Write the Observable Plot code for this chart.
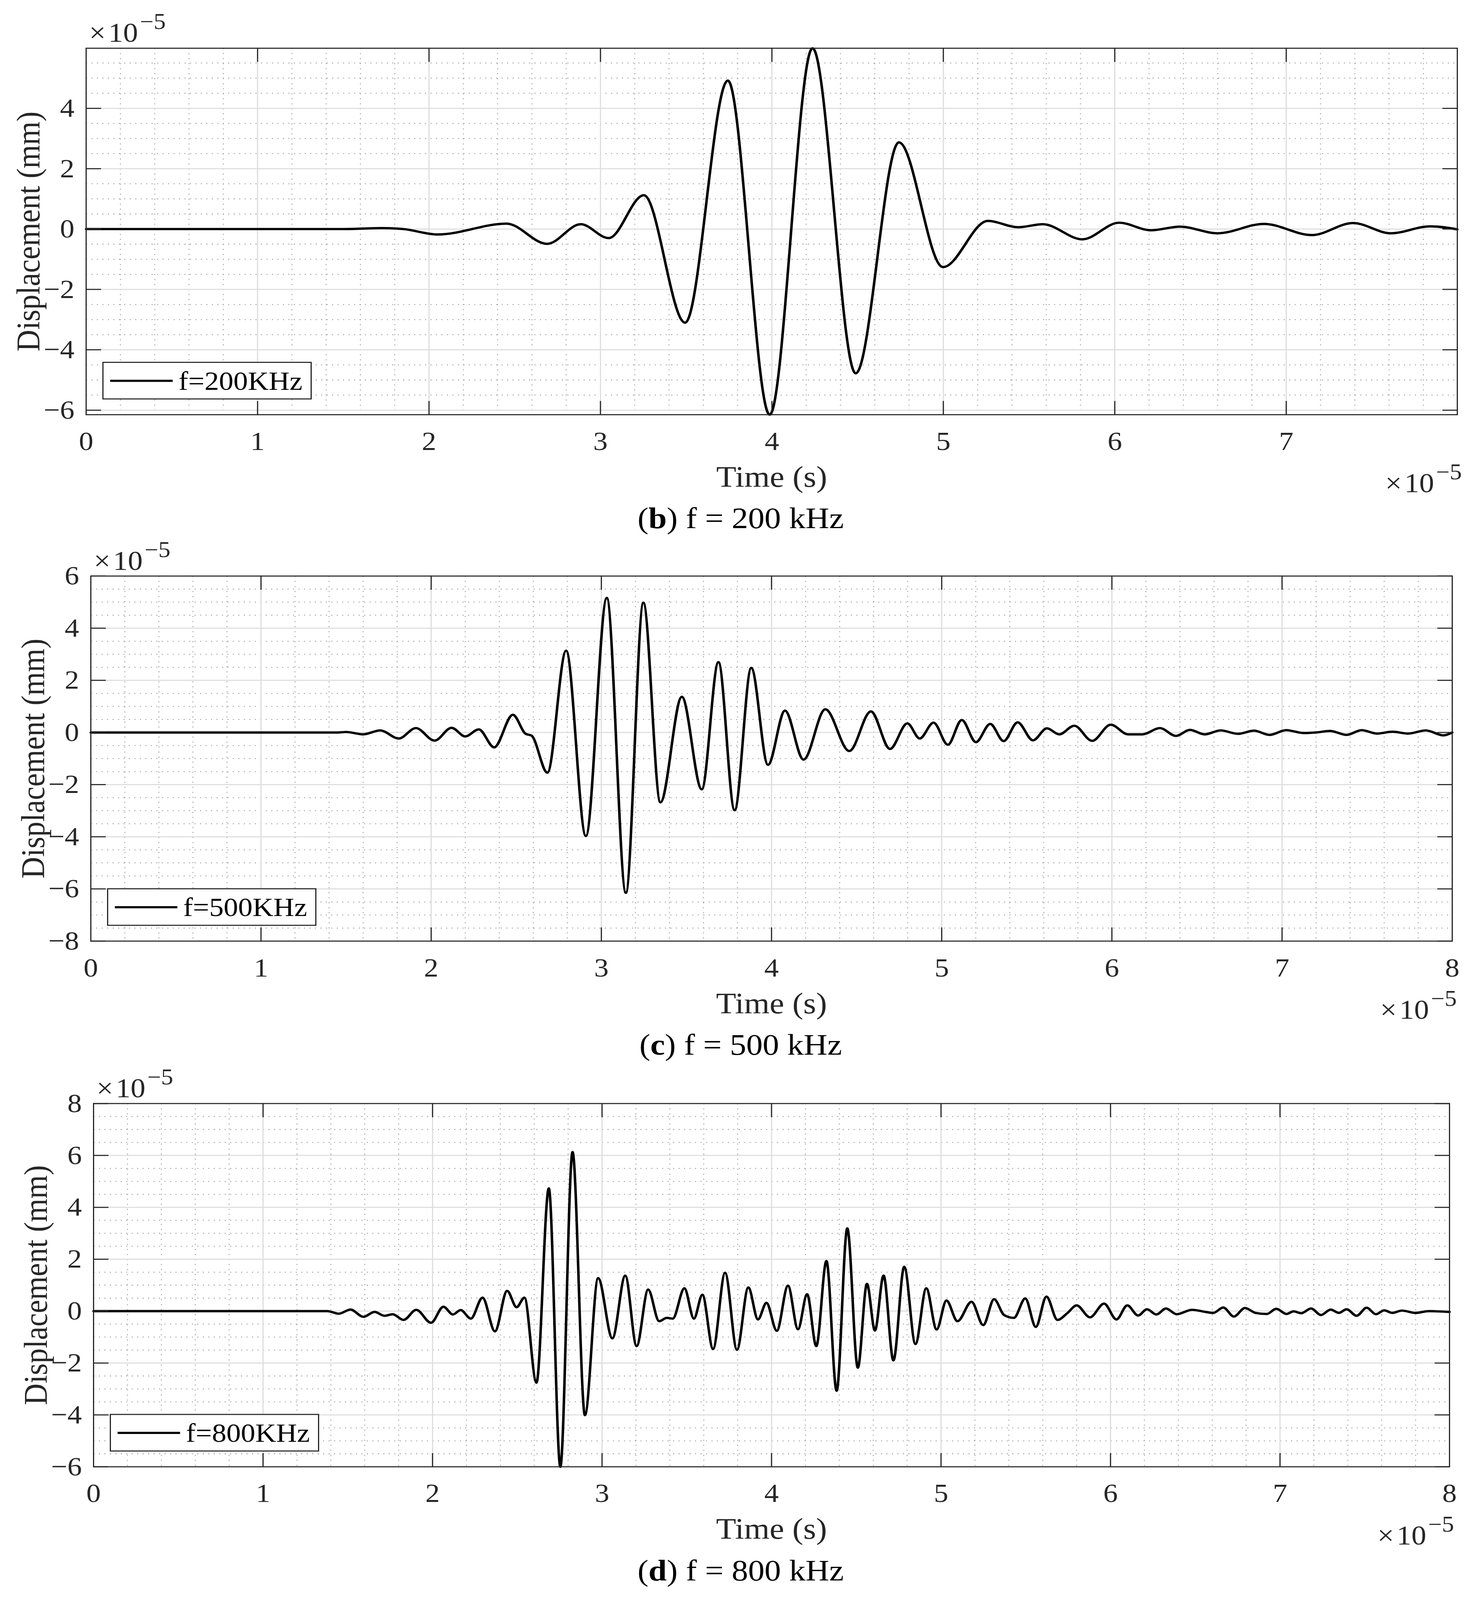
<!DOCTYPE html>
<html>
<head>
<meta charset="utf-8">
<script src="https://cdn.jsdelivr.net/npm/d3@7"></script>
<script src="https://cdn.jsdelivr.net/npm/@observablehq/plot@0.6"></script>
<style>
  html, body { margin: 0; padding: 0; background: #fff; overflow: hidden; }
  #page { position: relative; width: 3786px; height: 4462px; background: #fff; overflow: hidden; transform-origin: 0 0;
          font-family: "Liberation Serif", "Times New Roman", serif; }
  .panel { position: absolute; left: 0; line-height: 0; }
  .panel svg { display: block; }
  .exp { position: absolute; font-size: 76px; line-height: 1; color: #262626; white-space: nowrap; }
  .exp .sup { position: relative; top: -36px; font-size: 62px; margin-left: 5px; }
  .caption { position: absolute; left: 0; text-align: center; font-size: 84px; line-height: 1; color: #000; white-space: pre; }
  .legend { position: absolute; box-sizing: border-box; border: 3px solid #262626; background: #fff; }
  .legend .ln { position: absolute; left: 17px; width: 160px; height: 6px; top: calc(50% - 3px); background: #000; }
  .legend .tx { position: absolute; left: 192px; top: 50%; transform: translateY(-50%); font-size: 74px; line-height: 1; color: #000; white-space: nowrap; }
</style>
</head>
<body>
<div id="page"></div>
<script>
// ---------------- data (time in 1e-5 s, displacement in 1e-5 mm) ----------------
const timeB = [0, 1.5, 1.72, 1.85, 2.05, 2.452, 2.689, 2.885, 3.048, 3.253, 3.494, 3.743, 3.987, 4.237, 4.489, 4.741, 4.998, 5.26, 5.436, 5.58, 5.811, 6.025, 6.21, 6.38, 6.6, 6.87, 7.15, 7.39, 7.61, 7.84, 7.998];
const dispB = [0, 0, 0.03, 0, -0.18, 0.18, -0.49, 0.16, -0.30, 1.12, -3.10, 4.92, -6.15, 5.99, -4.78, 2.87, -1.26, 0.27, 0.06, 0.16, -0.34, 0.21, -0.04, 0.08, -0.14, 0.17, -0.20, 0.20, -0.14, 0.09, -0.01];

const timeC = [0, 1.45, 1.5, 1.6, 1.7, 1.81, 1.91, 2.02, 2.12, 2.2, 2.28, 2.37, 2.48, 2.555, 2.59, 2.683, 2.793, 2.909, 3.032, 3.144, 3.247, 3.347, 3.473, 3.59, 3.688, 3.783, 3.881, 3.979, 4.079, 4.188, 4.316, 4.457, 4.584, 4.696, 4.798, 4.871, 4.952, 5.036, 5.118, 5.201, 5.285, 5.364, 5.446, 5.536, 5.618, 5.691, 5.779, 5.884, 5.993, 6.095, 6.18, 6.282, 6.376, 6.459, 6.545, 6.639, 6.741, 6.835, 6.927, 7.024, 7.128, 7.196, 7.282, 7.379, 7.468, 7.557, 7.649, 7.741, 7.845, 7.949, 8.0];
const dispC = [0, 0, 0.02, -0.07, 0.08, -0.23, 0.17, -0.31, 0.18, -0.15, 0.12, -0.57, 0.68, -0.05, -0.12, -1.54, 3.14, -3.97, 5.16, -6.15, 4.98, -2.68, 1.37, -2.18, 2.70, -2.98, 2.48, -1.24, 0.84, -1.04, 0.89, -0.71, 0.81, -0.63, 0.35, -0.23, 0.38, -0.47, 0.48, -0.37, 0.33, -0.33, 0.39, -0.30, 0.16, -0.07, 0.26, -0.32, 0.30, -0.07, -0.07, 0.17, -0.13, 0.10, -0.07, 0.08, -0.05, 0.07, -0.09, 0.09, -0.02, 0.0, 0.06, -0.09, 0.09, -0.04, 0.03, -0.04, 0.08, -0.11, 0.0];

const timeD = [0, 1.38, 1.447, 1.516, 1.592, 1.658, 1.717, 1.765, 1.829, 1.904, 1.991, 2.064, 2.12, 2.166, 2.226, 2.295, 2.368, 2.44, 2.496, 2.542, 2.613, 2.686, 2.754, 2.826, 2.899, 2.977, 3.061, 3.137, 3.204, 3.272, 3.337, 3.382, 3.417, 3.486, 3.542, 3.592, 3.655, 3.726, 3.796, 3.863, 3.92, 3.97, 4.031, 4.097, 4.156, 4.21, 4.264, 4.324, 4.384, 4.447, 4.509, 4.563, 4.61, 4.661, 4.719, 4.783, 4.849, 4.913, 4.974, 5.032, 5.097, 5.18, 5.249, 5.313, 5.372, 5.43, 5.497, 5.559, 5.622, 5.687, 5.745, 5.8, 5.879, 5.962, 6.035, 6.099, 6.163, 6.215, 6.271, 6.327, 6.39, 6.481, 6.56, 6.606, 6.665, 6.728, 6.793, 6.856, 6.922, 6.978, 7.038, 7.08, 7.125, 7.183, 7.242, 7.299, 7.347, 7.393, 7.452, 7.511, 7.566, 7.615, 7.663, 7.719, 7.8, 7.878, 8.0];
const dispD = [0, 0, -0.10, 0.06, -0.22, -0.03, -0.18, -0.12, -0.34, 0.05, -0.45, 0.17, -0.13, 0.04, -0.29, 0.52, -0.78, 0.78, 0.15, 0.52, -2.76, 4.73, -6.0, 6.13, -4.01, 1.27, -1.05, 1.37, -1.35, 0.83, -0.39, -0.26, -0.29, 0.88, -0.29, 0.63, -1.46, 1.48, -1.49, 0.91, -0.32, 0.32, -0.76, 0.98, -0.70, 0.65, -1.35, 1.93, -3.07, 3.19, -2.18, 1.05, -0.75, 1.37, -1.90, 1.71, -1.27, 0.88, -0.71, 0.41, -0.39, 0.36, -0.54, 0.46, -0.15, -0.26, 0.49, -0.61, 0.56, -0.34, -0.08, 0.22, -0.24, 0.29, -0.32, 0.22, -0.17, 0.07, -0.13, 0.10, -0.12, 0.05, -0.03, -0.07, 0.14, -0.21, 0.12, -0.07, -0.11, 0.09, -0.11, -0.01, -0.08, 0.10, -0.15, 0.06, -0.07, 0.07, -0.18, 0.13, -0.12, 0.03, -0.07, 0.02, -0.07, 0.0, -0.03];

// tick values
const xTicksB = [0, 1, 2, 3, 4, 5, 6, 7];
const yTicksB = [-6, -4, -2, 0, 2, 4];
const xTicksC = [0, 1, 2, 3, 4, 5, 6, 7, 8];
const yTicksC = [-8, -6, -4, -2, 0, 2, 4, 6];
const xTicksD = [0, 1, 2, 3, 4, 5, 6, 7, 8];
const yTicksD = [-6, -4, -2, 0, 2, 4, 6, 8];

const legendLabels = ["f=200KHz", "f=500KHz", "f=800KHz"];
const captionLetters = ["b", "c", "d"];
const captionTexts = [" f = 200 kHz", " f = 500 kHz", " f = 800 kHz"];

// ---------------- layout ----------------
const W = 3786, H = 4462;
const panels = [
  {time: timeB, disp: dispB, xTicks: xTicksB, yTicks: yTicksB, xDomain: d3.extent(timeB), yDomain: d3.extent(dispB),
   top: 0, height: 1480, mt: 134, mb: 324, ml: 220, mr: 56},
  {time: timeC, disp: dispC, xTicks: xTicksC, yTicks: yTicksC, xDomain: [0, 8], yDomain: [-8, 6],
   top: 1480, height: 1480, mt: 126, mb: 336, ml: 232, mr: 69},
  {time: timeD, disp: dispD, xTicks: xTicksD, yTicks: yTicksD, xDomain: [0, 8], yDomain: [-6, 8],
   top: 2960, height: 1502, mt: 117, mb: 372, ml: 239, mr: 76}
];

const fmt = d => (d < 0 ? "\u2212" + Math.abs(d) : String(d));
const tickShape = {draw(ctx, l) { ctx.moveTo(0, 0); ctx.lineTo(0, -l); }};
const axisColor = "#262626";

const page = document.getElementById("page");

// fit the whole figure into the visible window
const vh = window.innerHeight || H;
const fy = Math.min(1, vh / H);
if (fy < 1) page.style.transform = "scale(1," + fy + ")";

panels.forEach((p, k) => {
  const [x0, x1] = p.xDomain, [y0, y1] = p.yDomain;
  const eps = 1e-6;
  const minorX = d3.range(0, 41).map(i => i / 5).filter(v => v > x0 + eps && v < x1 - eps && !p.xTicks.includes(v));
  const minorY = d3.range(-16, 17).map(i => i / 2).filter(v => v > y0 + eps && v < y1 - eps && !p.yTicks.includes(v));
  const majorX = p.xTicks.filter(v => v > x0 + eps && v < x1 - eps);
  const majorY = p.yTicks.filter(v => v > y0 + eps && v < y1 - eps);
  const data = p.time.map((t, i) => ({t, v: p.disp[i]}));
  const tickOpts = {length: 37, anchor: "start", shape: tickShape, stroke: axisColor, strokeWidth: 3};

  const chart = Plot.plot({
    width: W, height: p.height,
    marginTop: p.mt, marginBottom: p.mb, marginLeft: p.ml, marginRight: p.mr,
    style: {fontFamily: "'Liberation Serif', 'Times New Roman', serif", fontSize: "74px", color: axisColor, background: "transparent", overflow: "visible", maxWidth: "none"},
    x: {domain: p.xDomain},
    y: {domain: p.yDomain},
    marks: [
      Plot.ruleX(minorX, {stroke: "#a8a8a8", strokeWidth: 2.5, strokeDasharray: "3,11"}),
      Plot.ruleY(minorY, {stroke: "#a8a8a8", strokeWidth: 2.5, strokeDasharray: "3,11"}),
      Plot.ruleX(majorX, {stroke: "#dddddd", strokeWidth: 3}),
      Plot.ruleY(majorY, {stroke: "#dddddd", strokeWidth: 3}),
      Plot.line(data, {x: "t", y: "v", curve: "monotone-x", stroke: "#000", strokeWidth: 6.5, strokeLinejoin: "round"}),
      Plot.frame({stroke: axisColor, strokeWidth: 3}),
      Plot.vector(p.xTicks, {x: d => d, frameAnchor: "bottom", rotate: 0, ...tickOpts}),
      Plot.vector(p.xTicks, {x: d => d, frameAnchor: "top", rotate: 180, ...tickOpts}),
      Plot.vector(p.yTicks, {y: d => d, frameAnchor: "left", rotate: 90, ...tickOpts}),
      Plot.vector(p.yTicks, {y: d => d, frameAnchor: "right", rotate: 270, ...tickOpts}),
      Plot.axisX({ticks: p.xTicks, tickSize: 0, tickPadding: 46, tickFormat: fmt, label: null, fill: axisColor}),
      Plot.axisY({ticks: p.yTicks, tickSize: 0, tickPadding: 30, tickFormat: fmt, label: null, fill: axisColor}),
      Plot.text(["Time (s)"], {text: d => d, frameAnchor: "bottom", lineAnchor: "middle", textAnchor: "middle", dy: 174, fontSize: 84, fill: axisColor}),
      Plot.text(["Displacement (mm)"], {text: d => d, frameAnchor: "left", lineAnchor: "middle", textAnchor: "middle", dx: -146, rotate: -90, fontSize: 84, fill: axisColor})
    ]
  });

  const holder = document.createElement("div");
  holder.className = "panel";
  holder.style.top = p.top + "px";
  holder.appendChild(chart);
  page.appendChild(holder);

  const left = p.ml, right = W - p.mr, top = p.top + p.mt, bottom = p.top + p.height - p.mb;
  const asc = 0.891 - 0.0535; // baseline offset for line-height:1 in Liberation Serif

  // exponent labels
  const e1 = document.createElement("div");
  e1.className = "exp";
  e1.innerHTML = "\u00d7\u200a10<span class='sup'>\u22125</span>";
  e1.style.left = (left + 8) + "px";
  e1.style.top = (top - 17 - asc * 76) + "px";
  page.appendChild(e1);

  const e2 = document.createElement("div");
  e2.className = "exp";
  e2.innerHTML = "\u00d7\u200a10<span class='sup'>\u22125</span>";
  e2.style.right = (W - right - 12) + "px";
  e2.style.top = (bottom + 217 - asc * 76) + "px";
  page.appendChild(e2);

  // caption
  const cap = document.createElement("div");
  cap.className = "caption";
  cap.innerHTML = "(<b>" + captionLetters[k] + "</b>)" + captionTexts[k];
  cap.style.width = "3792px";
  cap.style.top = (bottom + 317 - asc * 84) + "px";
  page.appendChild(cap);

  // legend
  const lg = document.createElement("div");
  lg.className = "legend";
  lg.style.left = (left + 42) + "px";
  lg.style.top = (bottom - 42 - 105) + "px";
  lg.style.width = "536px";
  lg.style.height = "105px";
  lg.innerHTML = "<div class='ln'></div><div class='tx'>" + legendLabels[k] + "</div>";
  page.appendChild(lg);
});
</script>
</body>
</html>
